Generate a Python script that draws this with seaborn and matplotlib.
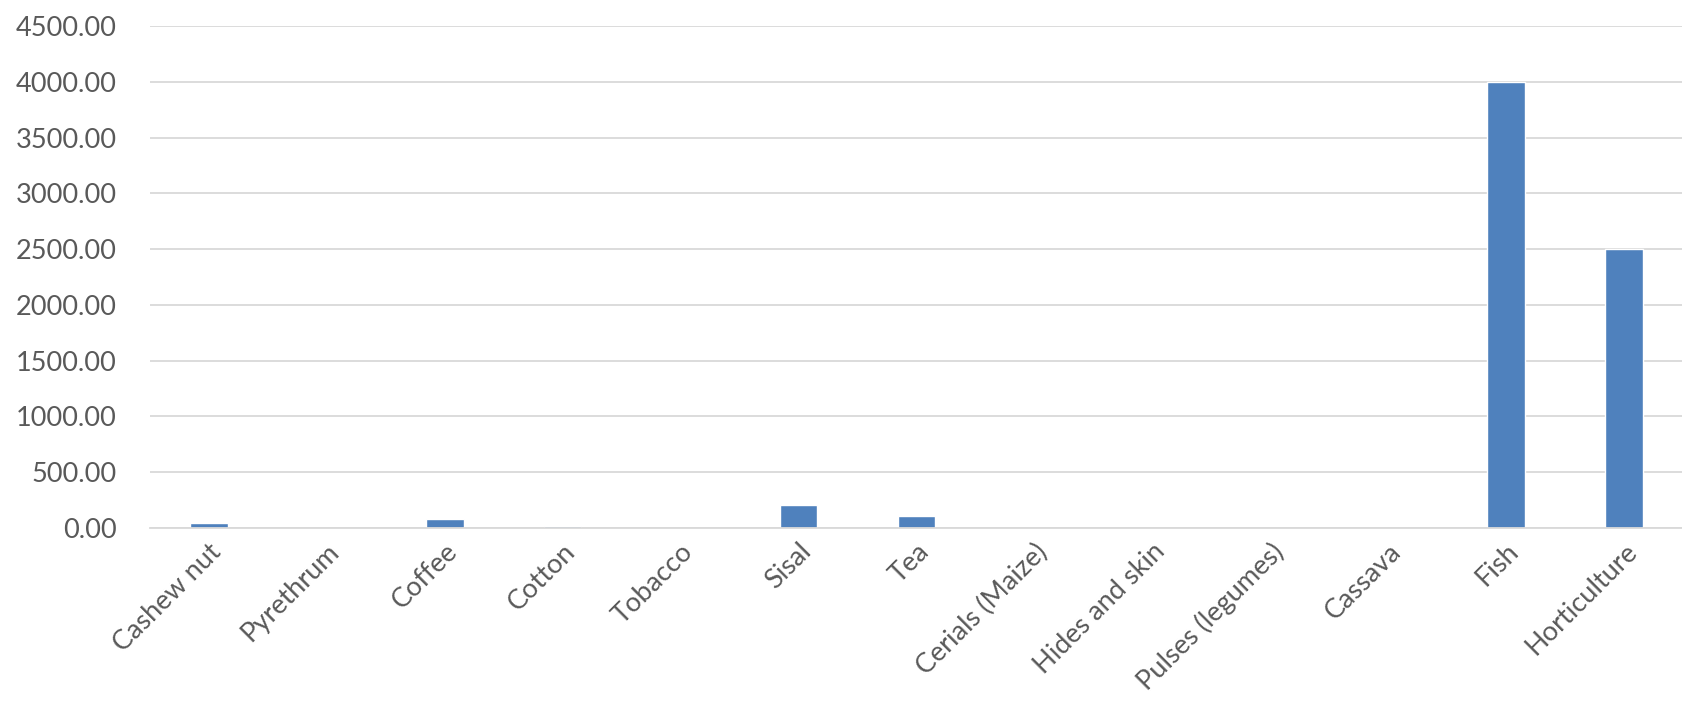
import matplotlib
matplotlib.use("Agg")
import matplotlib.pyplot as plt
import seaborn as sns
import pandas as pd
from matplotlib.ticker import FormatStrFormatter

categories = ["Cashew nut", "Pyrethrum", "Coffee", "Cotton", "Tobacco", "Sisal", "Tea",
              "Cerials (Maize)", "Hides and skin", "Pulses (legumes)", "Cassava", "Fish", "Horticulture"]
values = [42, 0, 78, 18, 0, 201, 105, 0, 0, 0, 0, 4000, 2500]
yticks = [0, 500, 1000, 1500, 2000, 2500, 3000, 3500, 4000, 4500]

sns.set_theme(style="white")
plt.rcParams['font.family'] = ['Lato', 'DejaVu Sans']

df = pd.DataFrame({"cat": categories, "val": values})
fig = plt.figure(figsize=(16.83, 7.22), dpi=100)
ax = fig.add_axes([0.089, 0.269, 0.911, 0.695])
sns.barplot(data=df, x="cat", y="val", color="#4F81BD", saturation=1, width=0.32, ax=ax)

ax.set_ylim(0, 4500)
ax.set_yticks(yticks)
ax.yaxis.set_major_formatter(FormatStrFormatter("%.2f"))
ax.grid(axis="y", color="#D9D9D9", linewidth=1.3)
ax.set_axisbelow(True)
for s in ["top", "right", "left"]:
    ax.spines[s].set_visible(False)
ax.spines["bottom"].set_color("#D9D9D9")
ax.spines["bottom"].set_linewidth(1.3)
ax.set_xlabel("")
ax.set_ylabel("")
ax.tick_params(axis="both", length=0, colors="#595959", labelsize=19.5)
ax.tick_params(axis="y", pad=24)
ax.tick_params(axis="x", pad=8)
plt.setp(ax.get_xticklabels(), rotation=45, ha="right", rotation_mode="anchor")
ax.set_xlim(-0.5, len(categories) - 0.5)

fig.savefig("out.png", dpi=100)
